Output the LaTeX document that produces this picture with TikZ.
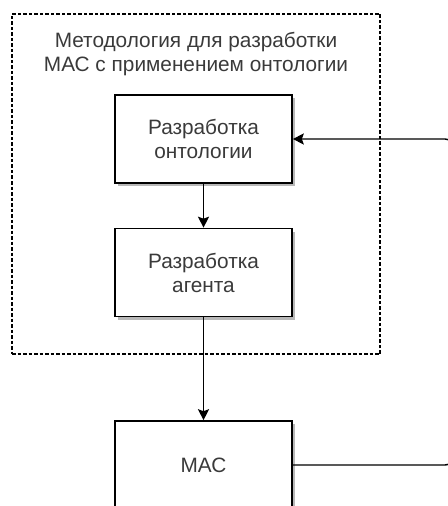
\documentclass[tikz,border=0pt]{standalone}
\usepackage{fontspec}
\setmainfont{Liberation Sans}
\usetikzlibrary{arrows.meta,shadows}
\definecolor{txt}{HTML}{3A3A3A}
\definecolor{shd}{HTML}{B8B8B8}
\begin{document}
\begin{tikzpicture}[x=0.75pt,y=-0.75pt,
  every node/.style={font=\fontsize{15.6pt}{18pt}\selectfont, text=txt},
  procbox/.style={draw=black, line width=1.2pt, fill=white, minimum width=177*0.75pt, minimum height=88*0.75pt, align=center, inner sep=0pt,
    general shadow={fill=shd, shadow xshift=3*0.75pt, shadow yshift=-3*0.75pt}},
  conn/.style={draw=black, line width=1.1pt, -{Stealth[length=11*0.75pt, width=11*0.75pt, inset=2*0.75pt]}},
  frame/.style={draw=black, line width=1pt, dash pattern=on 3.5*0.75pt off 2*0.75pt}]
\useasboundingbox (0,0) rectangle (448,506);
\clip (0,0) rectangle (448,506);
\node[frame, minimum width=368*0.75pt, minimum height=340*0.75pt, inner sep=0pt] (fr) at (196,184) {};
\node[align=center, inner sep=0pt] (title) at (196,54) {Методология для разработки\\МАС с применением онтологии};
\node[procbox] (b1) at (203.5,139) {Разработка\\онтологии};
\node[procbox] (b2) at (203.5,272.5) {Разработка\\агента};
\node[procbox] (mac) at (203.5,465) {МАС};
\coordinate (c1) at (453,465);
\coordinate (c2) at (453,139);
\draw[conn] (b1) -- (b2);
\draw[conn] (b2) -- (mac);
\draw[conn, rounded corners=8*0.75pt] (mac.east) -- (c1) -- (c2) -- (b1.east);
\end{tikzpicture}
\end{document}
